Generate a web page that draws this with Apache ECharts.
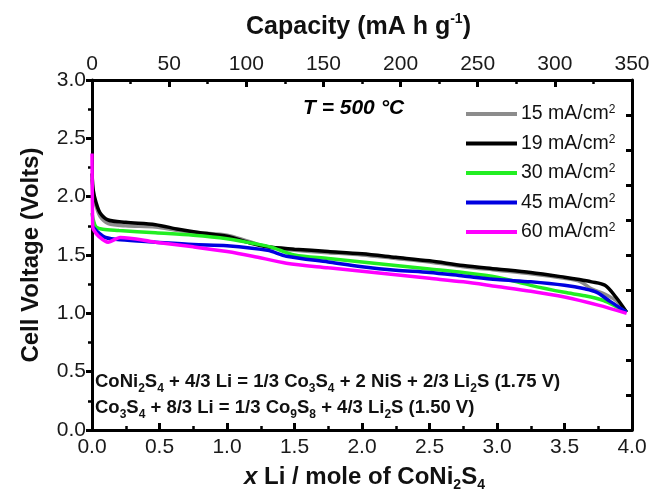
<!DOCTYPE html>
<html><head><meta charset="utf-8">
<script src="https://cdn.jsdelivr.net/npm/echarts@6/dist/echarts.min.js"></script>
<style>html,body{margin:0;padding:0;background:#fff}#c{width:661px;height:496px}</style>
</head><body><div id="c"></div>
<script>
// x (Li per mole) and voltage values
const x15 = [0, 0.01, 0.03, 0.06, 0.12, 0.25, 0.47, 0.64, 0.8, 1.0, 1.15, 1.3, 1.5, 1.75, 2.0, 2.25, 2.5, 2.75, 3.0, 3.25, 3.5, 3.62, 3.7, 3.79, 3.88, 3.96];
const v15 = [2.15, 2.0, 1.92, 1.83, 1.77, 1.75, 1.74, 1.71, 1.69, 1.67, 1.62, 1.57, 1.54, 1.52, 1.50, 1.47, 1.44, 1.40, 1.37, 1.34, 1.30, 1.27, 1.21, 1.17, 1.11, 1.01];
const x19 = [0, 0.01, 0.03, 0.06, 0.12, 0.25, 0.47, 0.64, 0.8, 1.0, 1.15, 1.3, 1.5, 1.75, 2.0, 2.25, 2.5, 2.75, 3.0, 3.25, 3.5, 3.61, 3.7, 3.8, 3.88, 3.96];
const v19 = [2.2, 2.05, 1.95, 1.86, 1.80, 1.78, 1.76, 1.72, 1.69, 1.66, 1.61, 1.57, 1.55, 1.53, 1.51, 1.48, 1.45, 1.41, 1.38, 1.35, 1.31, 1.29, 1.27, 1.24, 1.14, 1.01];
const x30 = [0, 0.01, 0.03, 0.08, 0.2, 0.47, 0.75, 1.0, 1.19, 1.32, 1.5, 1.75, 2.0, 2.25, 2.5, 2.75, 3.0, 3.25, 3.5, 3.65, 3.79, 3.88, 3.96];
const v30 = [1.86, 1.80, 1.74, 1.72, 1.71, 1.69, 1.67, 1.64, 1.60, 1.57, 1.50, 1.47, 1.44, 1.41, 1.38, 1.35, 1.31, 1.24, 1.18, 1.15, 1.11, 1.06, 1.01];
const x45 = [0, 0.05, 0.1, 0.21, 0.47, 0.75, 1.0, 1.3, 1.44, 1.75, 2.0, 2.25, 2.5, 2.75, 3.0, 3.25, 3.5, 3.65, 3.74, 3.84, 3.96];
const v45 = [1.75, 1.69, 1.65, 1.63, 1.61, 1.59, 1.58, 1.54, 1.49, 1.44, 1.40, 1.37, 1.35, 1.32, 1.29, 1.27, 1.24, 1.21, 1.18, 1.10, 1.01];
const x60 = [0, 0.005, 0.01, 0.05, 0.12, 0.21, 0.47, 0.75, 1.0, 1.19, 1.44, 1.75, 2.0, 2.25, 2.5, 2.75, 3.0, 3.25, 3.5, 3.75, 3.96];
const v60 = [2.37, 1.75, 1.72, 1.66, 1.61, 1.65, 1.61, 1.57, 1.53, 1.49, 1.43, 1.39, 1.36, 1.33, 1.30, 1.27, 1.23, 1.19, 1.14, 1.07, 1.00];

const seriesNames = ['15 mA/cm{sup|2}', '19 mA/cm{sup|2}', '30 mA/cm{sup|2}', '45 mA/cm{sup|2}', '60 mA/cm{sup|2}'];
const seriesColors = ['#8c8c8c', '#000000', '#22ee22', '#0000e0', '#ff00ff'];
const xs = [x15, x19, x30, x45, x60];
const vs = [v15, v19, v30, v45, v60];

const FONT = '"Liberation Sans", Arial, sans-serif';
const chart = echarts.init(document.getElementById('c'), null, {renderer: 'canvas'});

const series = seriesNames.map((n, i) => ({
  name: n, type: 'line', xAxisIndex: 0, yAxisIndex: 0,
  data: xs[i].map((x, j) => [x, vs[i][j]]),
  symbol: 'none', smooth: 0.3,
  lineStyle: {color: seriesColors[i], width: 3.5},
  itemStyle: {color: seriesColors[i]},
  z: 3 + i
}));

const LBL = 21;
const axisCommon = {
  axisLine: {show: true, onZero: false, lineStyle: {color: '#000', width: 3}},
  splitLine: {show: false},
};

chart.setOption({
  animation: false,
  backgroundColor: '#fff',
  grid: {left: 92, right: 29, top: 80, bottom: 66, show: false},
  xAxis: [
    Object.assign({}, axisCommon, {
      type: 'value', position: 'bottom', min: 0, max: 4, interval: 0.5,
      axisTick: {show: true, inside: true, length: 7, lineStyle: {color: '#000', width: 3}},
      minorTick: {show: true, splitNumber: 2, length: 4, lineStyle: {color: '#000', width: 2.5}},
      axisLabel: {color: '#1a1a1a', fontFamily: FONT, fontSize: LBL, margin: 7, formatter: v => v.toFixed(1)}
    }),
    Object.assign({}, axisCommon, {
      type: 'value', position: 'top', min: 0, max: 350, interval: 50,
      axisTick: {show: true, inside: true, length: 7, lineStyle: {color: '#000', width: 3}},
      minorTick: {show: true, splitNumber: 2, length: 4, lineStyle: {color: '#000', width: 2.5}},
      axisLabel: {color: '#1a1a1a', fontFamily: FONT, fontSize: LBL, margin: 5}
    })
  ],
  yAxis: [
    Object.assign({}, axisCommon, {
      type: 'value', position: 'left', min: 0, max: 3, interval: 0.5,
      axisTick: {show: true, inside: false, length: 6, lineStyle: {color: '#000', width: 3}},
      minorTick: {show: true, splitNumber: 2, length: 4, lineStyle: {color: '#000', width: 2.5}},
      axisLabel: {color: '#1a1a1a', fontFamily: FONT, fontSize: LBL, margin: 6, formatter: v => v.toFixed(1)}
    }),
    Object.assign({}, axisCommon, {
      type: 'value', position: 'right', min: 0, max: 10, interval: 1,
      axisTick: {show: true, inside: true, length: 6, lineStyle: {color: '#000', width: 3}},
      axisLabel: {show: false}
    })
  ],
  legend: {
    orient: 'vertical', left: 461, top: 99, itemWidth: 51, itemHeight: 4, itemGap: 9.5,
    icon: 'rect', selectedMode: false,
    data: seriesNames.map((n, i) => ({name: n, itemStyle: {color: seriesColors[i]}})),
    textStyle: {
      color: '#111', fontFamily: FONT, fontSize: 19.5, lineHeight: 20, padding: [0, 0, 0, -1],
      rich: {sup: {fontSize: 12, lineHeight: 10, verticalAlign: 'top', color: '#111', fontFamily: FONT}}
    }
  },
  graphic: [
    {type: 'text', left: 303, top: 98, style: {text: 'T = 500 °C', font: 'italic bold 21px ' + FONT, fill: '#000'}},
    {type: 'text', left: 95, top: 369, style: {
      text: 'CoNi{s|2}S{s|4} + 4/3 Li = 1/3 Co{s|3}S{s|4} + 2 NiS + 2/3 Li{s|2}S (1.75 V)',
      font: 'bold 18.5px ' + FONT, fill: '#111', lineHeight: 26,
      rich: {s: {font: 'bold 12px ' + FONT, lineHeight: 12, verticalAlign: 'bottom', fill: '#111'}}
    }},
    {type: 'text', left: 95, top: 395, style: {
      text: 'Co{s|3}S{s|4} + 8/3 Li = 1/3 Co{s|9}S{s|8} + 4/3 Li{s|2}S (1.50 V)',
      font: 'bold 18.5px ' + FONT, fill: '#111', lineHeight: 26,
      rich: {s: {font: 'bold 12px ' + FONT, lineHeight: 12, verticalAlign: 'bottom', fill: '#111'}}
    }},
    {type: 'text', left: 246, top: 12, style: {
      text: 'Capacity (mA h g{p|-1})', font: 'bold 25px ' + FONT, fill: '#111', lineHeight: 30,
      rich: {p: {font: 'bold 14px ' + FONT, lineHeight: 14, verticalAlign: 'top', fill: '#111'}}
    }},
    {type: 'text', left: 244, top: 462, style: {
      text: '{i|x} Li / mole of CoNi{s|2}S{s|4}', font: 'bold 24px ' + FONT, fill: '#111', lineHeight: 30,
      rich: {
        i: {font: 'italic bold 24px ' + FONT, lineHeight: 30, fill: '#111'},
        s: {font: 'bold 14px ' + FONT, lineHeight: 14, verticalAlign: 'bottom', fill: '#111'}
      }
    }},
    {type: 'text', x: 31, y: 255, rotation: Math.PI / 2, style: {
      text: 'Cell Voltage (Volts)', font: 'bold 24px ' + FONT, fill: '#111', align: 'center', verticalAlign: 'middle'
    }}
  ],
  series: series
});
</script></body></html>
